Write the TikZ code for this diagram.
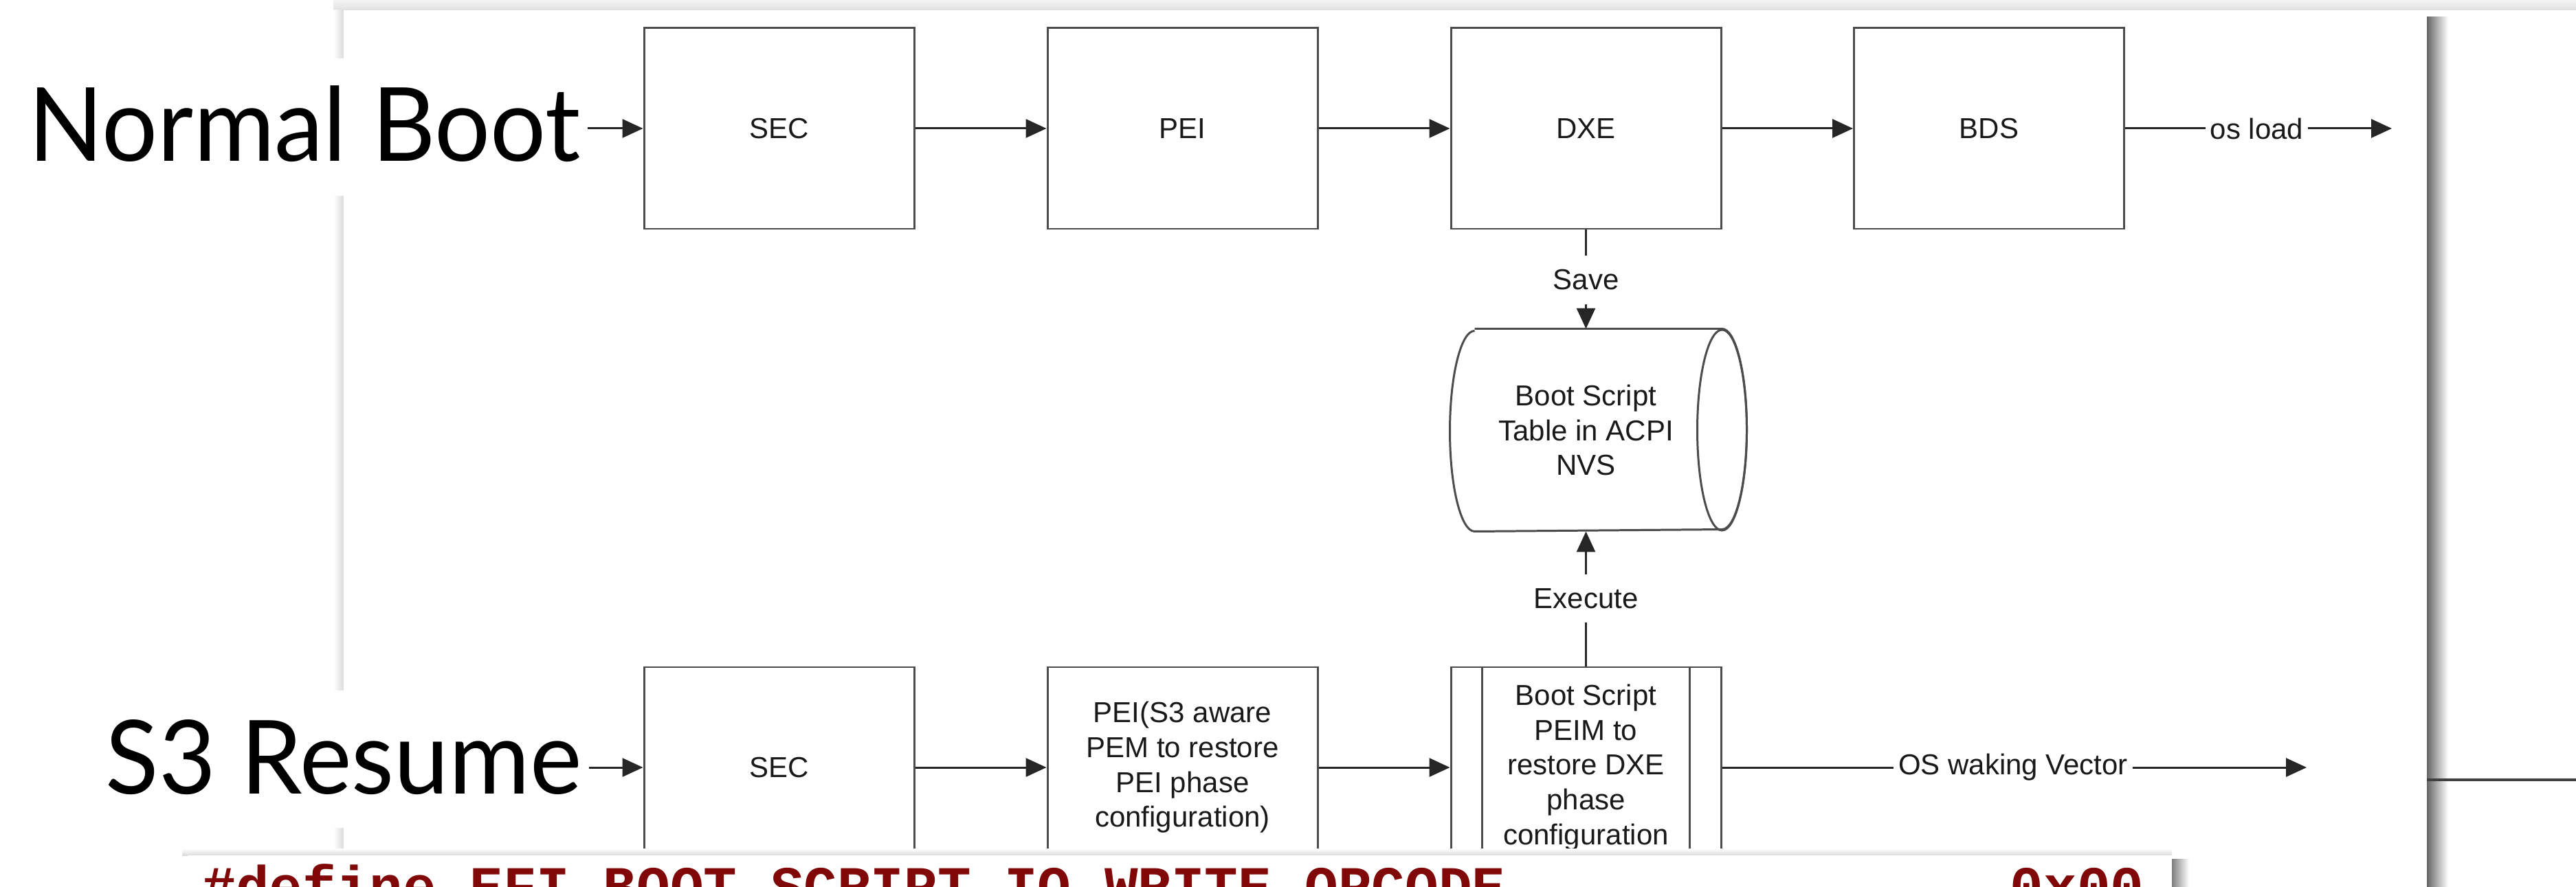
\documentclass[tikz,border=0pt]{standalone}
\usepackage{fontspec}
\setmainfont{Liberation Sans}
\newfontfamily\tagfont[FakeStretch=0.96]{Lato}
\newfontfamily\codefont{Liberation Mono}
\usetikzlibrary{arrows.meta}

\definecolor{codered}{RGB}{128,8,8}
\newcommand{\boxfont}{\fontsize{11.95}{14.4}\selectfont}

\tikzset{
  phase/.style={draw=black!70, line width=0.85pt, fill=white, minimum width=3.93cm,
    minimum height=2.92cm, inner sep=0pt, align=center, text=black!90, font=\boxfont},
  link/.style={draw=black!85, line width=0.85pt},
  flow/.style={link, -{Triangle[length=0.3cm, width=0.27cm]}},
  lbl/.style={inner sep=0.06cm, text=black!90, font=\boxfont},
  tag/.style={fill=white, inner xsep=0.1cm, inner ysep=0pt, text height=1.5cm,
    text depth=0.5cm, font=\tagfont\fontsize{42.4}{50}\selectfont},
  code/.style={inner sep=0pt, text=codered, font=\codefont\bfseries\fontsize{23.05}{28}\selectfont},
}

\begin{document}
\begin{tikzpicture}

  % Fix the frame: 3748 x 1291 px, 100 px per cm
  \clip (0,0) rectangle (37.48,-12.91);
  \fill[white] (0,0) rectangle (37.48,-12.91);

  % Screenshot panel with its soft shadow
  \shade[top color=black!4, bottom color=black!12] (4.85,0) rectangle (37.48,-0.15);
  \shade[left color=white, right color=black!14] (4.85,-0.15) rectangle (5.00,-13);
  \shade[left color=black!60, right color=white] (35.31,-0.25) rectangle (35.62,-13);
  \fill[white] (5.00,-0.15) rectangle (35.31,-13);

  % Edge of the slide behind, on the right
  \draw[black!75, line width=1.1pt] (35.31,-11.35) -- (37.48,-11.35);

  % Normal boot path
  \node[phase] (sec1) at (11.335,-1.87) {SEC};
  \node[phase] (pei1) at (17.205,-1.87) {PEI};
  \node[phase] (dxe1) at (23.075,-1.87) {DXE};
  \node[phase] (bds1) at (28.94,-1.87) {BDS};
  \node[lbl] (osload) at (32.835,-1.87) {os load};
  \coordinate (osend) at (34.80,-1.87);

  \draw[flow] (sec1) -- (pei1);
  \draw[flow] (pei1) -- (dxe1);
  \draw[flow] (dxe1) -- (bds1);
  \draw[link] (bds1) -- (osload);
  \draw[flow] (osload) -- (osend);

  % Boot script table, drawn as a storage drum
  \node[phase, draw=none, fill=none] (nvs) at (23.075,-6.26) {Boot Script\\Table in ACPI\\NVS};
  \draw[black!70, line width=0.85pt] ([xshift=0.36cm]nvs.north west) -- (nvs.north east)
    arc[start angle=90, end angle=-90, x radius=0.36cm, y radius=1.46cm]
    -- ([xshift=0.36cm]nvs.south west)
    arc[start angle=270, end angle=90, x radius=0.36cm, y radius=1.46cm];
  \draw[black!70, line width=0.85pt] (nvs.east) ellipse [x radius=0.36cm, y radius=1.46cm];

  \node[lbl, inner sep=0.2cm] (save) at (23.075,-4.075) {Save};
  \node[lbl, inner sep=0.2cm] (exec) at (23.075,-8.71) {Execute};
  \draw[link] (dxe1) -- (save);
  \draw[flow] (save) -- (save |- nvs.north);
  \draw[flow] (exec) -- (exec |- nvs.south);

  % S3 resume path
  \node[phase] (sec2) at (11.335,-11.17) {SEC};
  \node[phase] (pei2) at (17.205,-11.17) {PEI(S3 aware\\PEM to restore\\PEI phase\\configuration)};
  \node[phase] (peim) at (23.075,-11.17) {Boot Script\\PEIM to\\restore DXE\\phase\\configuration};
  \draw[black!70, line width=0.85pt]
    ([xshift=0.47cm]peim.north west) -- ([xshift=0.47cm]peim.south west)
    ([xshift=-0.47cm]peim.north east) -- ([xshift=-0.47cm]peim.south east);
  \node[lbl] (wake) at (29.29,-11.17) {OS waking Vector};
  \coordinate (wakeend) at (33.56,-11.17);

  \draw[link] (exec) -- (peim);
  \draw[flow] (sec2) -- (pei2);
  \draw[flow] (pei2) -- (peim);
  \draw[link] (peim) -- (wake);
  \draw[flow] (wake) -- (wakeend);

  % Big labels on the left, over the panel edge
  \node[tag, anchor=base west] (nb) at (0.31,-2.35) {Normal Boot};
  \node[tag, anchor=base west] (s3) at (1.43,-11.55) {S3 Resume};
  \draw[flow] (nb.east |- sec1) -- (sec1);
  \draw[flow] (s3.east |- sec2) -- (sec2);

  % Code listing pasted over the bottom
  \shade[top color=white, bottom color=black!14] (2.65,-12.35) rectangle (31.60,-12.45);
  \shade[left color=black!50, right color=white] (31.60,-12.50) rectangle (31.85,-13);
  \fill[white] (2.73,-12.45) rectangle (31.60,-13);
  \node[code, anchor=base west] (def) at (2.94,-13.17) {\#define EFI\_BOOT\_SCRIPT\_IO\_WRITE\_OPCODE};
  \node[code, anchor=base east] (val) at (31.20,-13.17) {0x00};

\end{tikzpicture}
\end{document}
